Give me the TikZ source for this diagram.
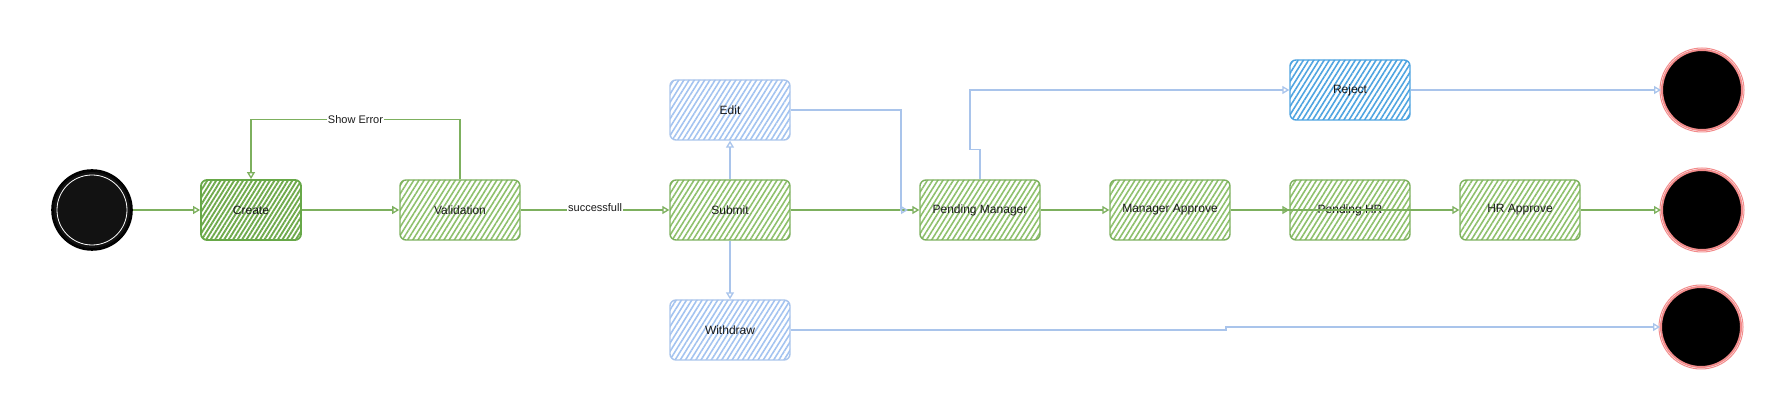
\documentclass[tikz,border=0pt]{standalone}
\usepackage{fontspec}
\setmainfont{Liberation Sans}
\usetikzlibrary{arrows.meta,patterns.meta}
\definecolor{gstroke}{HTML}{7DB05E}
\definecolor{ghatch}{HTML}{8EC06C}
\definecolor{cstroke}{HTML}{67A848}
\definecolor{chatch}{HTML}{6FAA4C}
\definecolor{bstroke}{HTML}{A9C4EB}
\definecolor{bhatch}{HTML}{A3C3F0}
\definecolor{rstroke}{HTML}{4DA3E0}
\definecolor{rhatch}{HTML}{4FA4E0}
\definecolor{endred}{HTML}{F28C8C}
\definecolor{txt}{HTML}{1A1A1A}
\begin{document}
\begin{tikzpicture}[x=1pt,y=-1pt,
  every node/.style={font=\fontsize{12pt}{14pt}\selectfont, text=txt},
  box/.style={rectangle, rounded corners=6pt, minimum width=120pt, minimum height=60pt, inner sep=0pt, line width=1.4pt},
  gbox/.style={box, draw=gstroke, pattern={Lines[angle=58,distance=4.4pt,line width=1.6pt]}, pattern color=ghatch},
  cbox/.style={box, minimum width=100pt, draw=cstroke, line width=1.8pt, pattern={Lines[angle=58,distance=3.8pt,line width=1.9pt]}, pattern color=chatch},
  bbox/.style={box, draw=bstroke, pattern={Lines[angle=58,distance=4.4pt,line width=1.6pt]}, pattern color=bhatch},
  rbox/.style={box, draw=rstroke, pattern={Lines[angle=58,distance=4.4pt,line width=1.6pt]}, pattern color=rhatch},
  startnode/.style={circle, minimum size=80pt, inner sep=0pt, fill=black!93, draw=black, line width=1.6pt},
  endnode/.style={circle, minimum size=80pt, inner sep=0pt, fill=black, draw=endred, line width=2pt},
  tip/.style={-{Triangle[open,length=7pt,width=8pt]}},
  gedge/.style={draw=gstroke, line width=1.3pt, tip},
  bedge/.style={draw=bstroke, line width=1.3pt, tip},
  lbl/.style={font=\fontsize{11pt}{13pt}\selectfont, fill=white, inner sep=1pt}
]
\useasboundingbox (0,0) rectangle (1792,419);

% nodes
\node[startnode] (start) at (92,210) {};
\draw[white, line width=0.8pt] (start.center) circle (35);
\draw[black, line width=0.8pt] (start.center) circle (38.5);
\node[cbox] (create) at (251,210) {Create};
\node[gbox] (valid) at (460,210) {Validation};
\node[gbox] (submit) at (730,210) {Submit};
\node[bbox] (edit) at (730,110) {Edit};
\node[bbox] (withdraw) at (730,330) {Withdraw};
\node[gbox] (pm) at (980,210) {Pending Manager};
\node[gbox] (ma) at (1170,210) {Manager Approve};
\node[gbox] (phr) at (1350,210) {Pending HR};
\node[gbox] (hra) at (1520,210) {HR Approve};
\node[rbox] (reject) at (1350,90) {Reject};
\node[endnode] (end1) at (1702,90) {};
\node[endnode] (end2) at (1702,210) {};
\node[endnode] (end3) at (1701,327) {};
\foreach \e in {end1,end2,end3}{\draw[endred, line width=1pt] (\e.center) circle (42);}

\coordinate (ein) at (908,210);
\coordinate (w1) at (1226,327);

% connectors
\draw[gedge] (start) -- (create);
\draw[gedge] (create) -- (valid);
\draw[gedge] (valid) -- node[lbl, yshift=2pt]{successfull} (submit);
\draw[gedge] (valid.north) -- ++(0,-60) -| node[pos=0.25, lbl]{Show Error} (create.north);
\draw[bedge] (submit) -- (edit);
\draw[bedge] (submit) -- (withdraw);
\draw[gedge] (submit) -- (pm);
\draw[bedge] (edit.east) -| ([xshift=-7pt]ein) -- (ein);
\draw[bedge] (pm.north) -- ++(0,-30) -- ++(-10,0) |- (reject.west);
\draw[gedge] (pm) -- (ma);
\draw[gedge] (ma) -- (phr);
\draw[gedge] (ma.east) -- (hra.west);
\draw[gedge] (hra) -- (end2);
\draw[bedge] (reject) -- (end1);
\draw[bedge] (withdraw.east) -| (w1) -- (end3.west);
\end{tikzpicture}
\end{document}
